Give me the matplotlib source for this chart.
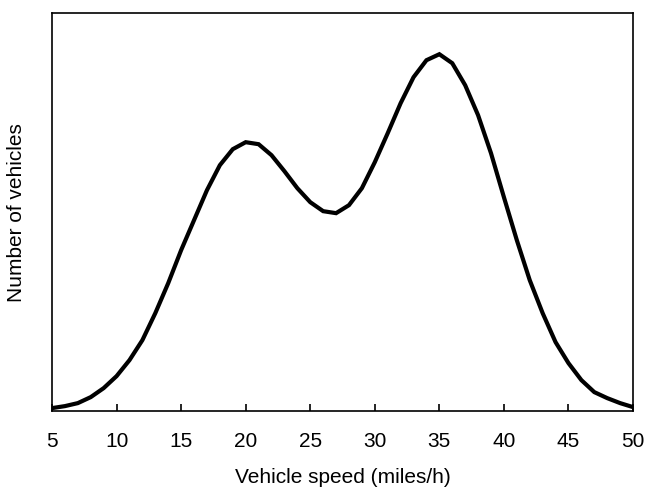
import matplotlib
matplotlib.use('Agg')
import matplotlib.pyplot as plt

# Speed distribution (arbitrary count units)
speed = list(range(5, 51))
vehicles = [
    3, 5, 8, 14, 23, 35, 51, 71, 98, 128,
    161, 191, 221, 246, 262, 269, 267, 256, 240, 223,
    209, 200, 198, 206, 223, 249, 278, 308, 334, 351,
    357, 348, 326, 296, 258, 214, 171, 131, 98, 69,
    48, 31, 19, 13, 8, 4,
]
xticks = [5, 10, 15, 20, 25, 30, 35, 40, 45, 50]

plt.rcParams['font.family'] = ['Liberation Sans', 'DejaVu Sans']

fig = plt.figure(figsize=(6.47, 4.9), dpi=100)
ax = fig.add_axes([0.0804, 0.161, 0.898, 0.812])

ax.plot(speed, vehicles, color='black', linewidth=3, solid_joinstyle='miter')

ax.set_xlim(5, 50)
ax.set_ylim(0, 398)
ax.set_xticks(xticks)
ax.set_yticks([])
ax.tick_params(axis='x', direction='in', length=5, width=1.2,
               labelsize=15, pad=15)
for spine in ax.spines.values():
    spine.set_linewidth(1.2)

ax.set_xlabel('Vehicle speed (miles/h)', fontsize=15, labelpad=12)
ax.set_ylabel('Number of vehicles', fontsize=15, labelpad=19)

fig.savefig('out.png', dpi=100)
